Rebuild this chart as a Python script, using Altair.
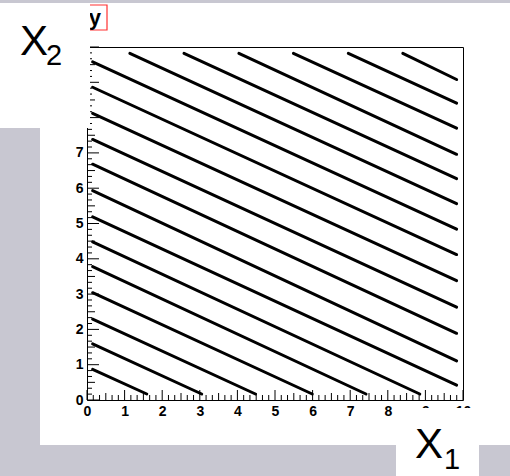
import altair as alt
import numpy as np
import pandas as pd

# Streaks of (x1, x2) pairs: each lattice line from its first to its last point
seg_x_start = [0.15, 0.15, 0.15, 0.15, 0.15, 0.15, 0.15, 0.15, 0.15, 0.15, 0.15, 0.15, 0.15,
               1.14, 2.58, 4.04, 5.49, 6.95, 8.40]
seg_y_start = [0.87, 1.59, 2.29, 3.04, 3.78, 4.48, 5.19, 5.93, 6.68, 7.38, 8.12, 8.86, 9.58,
               9.82, 9.82, 9.82, 9.82, 9.82, 9.82]
seg_x_end = [1.59, 3.05, 4.48, 5.99, 7.42, 8.85, 9.83, 9.83, 9.83, 9.83, 9.83, 9.83, 9.83,
             9.83, 9.83, 9.83, 9.83, 9.83, 9.83]
seg_y_end = [0.17, 0.17, 0.17, 0.17, 0.17, 0.17, 0.42, 1.11, 1.89, 2.63, 3.38, 4.12, 4.84,
             5.56, 6.27, 6.96, 7.70, 8.41, 9.08]

# Axis labels and tick divisions
x_labels = [0, 1, 2, 3, 4, 5, 6, 7, 8, 9, 10]
y_labels = [0, 1, 2, 3, 4, 5, 6, 7, 8, 9, 10]
AXIS_MIN, AXIS_MAX, SUBDIV = 0, 10, 6

W, H = 376, 353
GREY = "#c8c7d1"
FONT = "Liberation Sans"

all_ticks = np.round(np.linspace(AXIS_MIN, AXIS_MAX, (AXIS_MAX - AXIS_MIN) * SUBDIV + 1), 4)
major_ticks = [float(t) for t in all_ticks if abs(t - round(t)) < 1e-6]
half_ticks = [float(t) for t in all_ticks if abs(t - np.floor(t) - 0.5) < 1e-6]
minor_ticks = [float(t) for t in all_ticks if t not in major_ticks and t not in half_ticks]

xs = alt.Scale(domain=[AXIS_MIN, AXIS_MAX], nice=False, zero=False)
ys = alt.Scale(domain=[AXIS_MIN, AXIS_MAX], nice=False, zero=False)

x_axis = alt.Axis(values=x_labels, title=None, format="d", labelPadding=4)
y_axis = alt.Axis(values=y_labels, title=None, format="d", labelPadding=4)

one = pd.DataFrame({"k": [0]})


def box(x0, x1, y0, y1, fill, stroke=None):
    kw = {"fill": fill}
    if stroke:
        kw.update(stroke=stroke, strokeWidth=1.2)
    return alt.Chart(one).mark_rect(**kw).encode(
        x=alt.value(x0), x2=alt.value(x1), y=alt.value(y0), y2=alt.value(y1))


def label(text, x, y, size, weight="normal", align="left"):
    return alt.Chart(one).mark_text(
        text=text, font=FONT, fontSize=size, fontWeight=weight, align=align,
        baseline="alphabetic", color="black").encode(x=alt.value(x), y=alt.value(y))


def xticks(vals, length):
    return alt.Chart(pd.DataFrame({"v": vals})).mark_rule(color="black", strokeWidth=1).encode(
        x=alt.X("v:Q", scale=xs, axis=x_axis), y=alt.value(H), y2=alt.value(H - length))


def yticks(vals, length):
    return alt.Chart(pd.DataFrame({"v": vals})).mark_rule(color="black", strokeWidth=1).encode(
        y=alt.Y("v:Q", scale=ys, axis=y_axis), x=alt.value(0), x2=alt.value(length))


seg = pd.DataFrame({"xa": seg_x_start, "ya": seg_y_start, "xb": seg_x_end, "yb": seg_y_end})

lines = alt.Chart(seg).mark_rule(color="black", strokeWidth=3, strokeCap="round").encode(
    x=alt.X("xa:Q", scale=xs, axis=x_axis),
    y=alt.Y("ya:Q", scale=ys, axis=y_axis),
    x2="xb:Q",
    y2="yb:Q",
)

layers = [
    # slide background panels
    box(-87, 423, -47, -44, GREY),
    box(-87, -47, 81, 429, GREY),
    box(-87, 423, 398, 429, GREY),
    # histogram title box
    box(-30, 20, -42, -17, "white", stroke="#ff3030"),
    label("y", 14, -22, 22, weight="bold", align="right"),
    lines,
    xticks(major_ticks, 10), xticks(half_ticks, 7), xticks(minor_ticks, 5),
    yticks(major_ticks, 12), yticks(half_ticks, 8), yticks(minor_ticks, 5),
    # label panels
    box(-87, 3, -44, 81, "white"),
    box(309, 392, 361, 429, "white"),
    label("X", -67, 8, 42),
    label("2", -41, 18, 29),
    label("X", 328, 411, 42),
    label("1", 357, 422, 29),
]

chart = alt.layer(*layers).properties(
    width=W, height=H,
    autosize=alt.AutoSizeParams(type="none"),
    padding={"left": 87, "top": 47, "right": 47, "bottom": 76},
    background="white",
).configure_view(
    stroke="black", strokeWidth=1, fill="white"
).configure_axis(
    labelFont=FONT, labelFontWeight="bold", labelFontSize=14, labelColor="black",
    domain=False, ticks=False, tickSize=0, grid=False,
    labelFlush=False, labelOverlap=False, zindex=0,
)

chart.save("out.html", embed_options={"renderer": "svg", "actions": False})
